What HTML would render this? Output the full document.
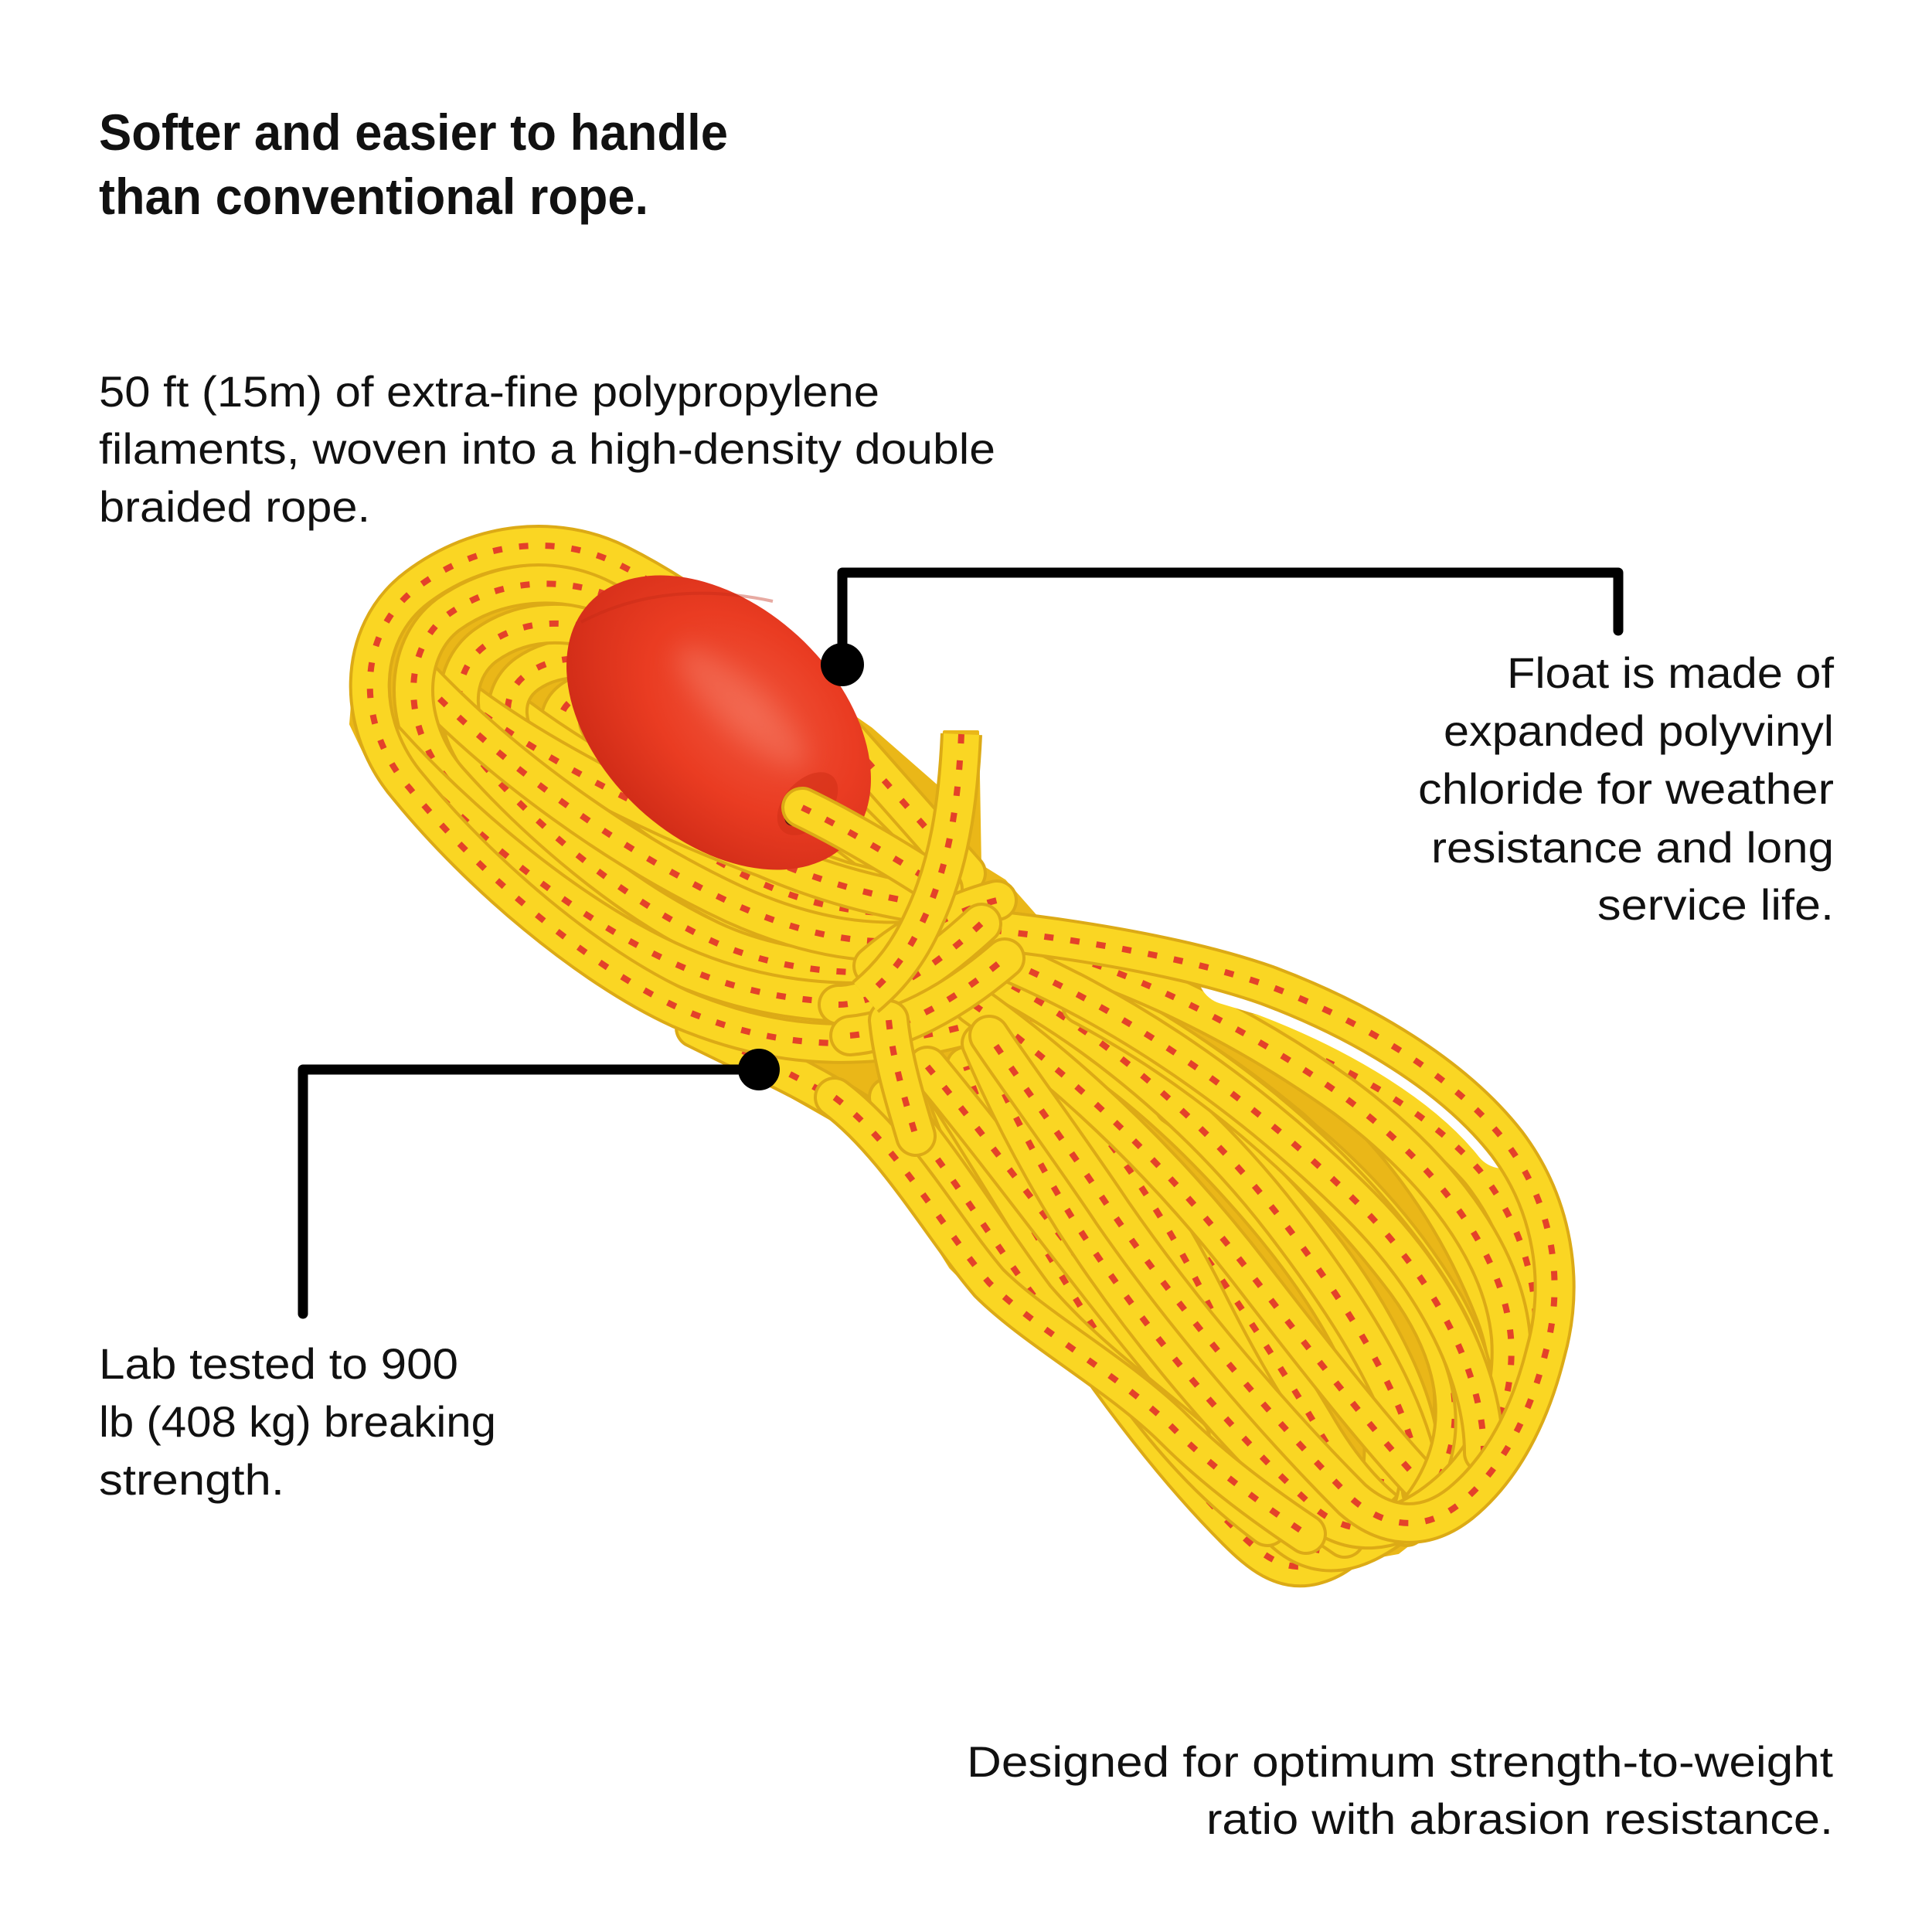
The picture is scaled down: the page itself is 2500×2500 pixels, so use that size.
<!DOCTYPE html>
<html>
<head>
<meta charset="utf-8">
<style>
html,body{margin:0;padding:0;background:#fff;}
svg{display:block;}
.t{font-family:"Liberation Sans",Arial,sans-serif;fill:#111;}
.h{font-weight:700;font-size:66px;}
.b{font-weight:400;font-size:56px;}
.o{fill:none;stroke:#dcaa16;stroke-width:54;stroke-linecap:round;stroke-linejoin:round;}
.f{fill:none;stroke:#fad623;stroke-width:46;stroke-linecap:round;stroke-linejoin:round;}
.d{fill:none;stroke:#e4412a;stroke-width:8;stroke-dasharray:12 22;}
</style>
</head>
<body>
<svg width="2500" height="2500" viewBox="0 0 2500 2500" xmlns="http://www.w3.org/2000/svg">
<defs>
  <radialGradient id="fg" cx="0.55" cy="0.38" r="0.62">
    <stop offset="0" stop-color="#f0553c"/>
    <stop offset="0.55" stop-color="#ea3c22"/>
    <stop offset="1" stop-color="#d22d18"/>
  </radialGradient>
  <filter id="bl" x="-50%" y="-50%" width="200%" height="200%"><feGaussianBlur stdDeviation="16"/></filter>
  <!-- left lobe -->
  <path id="L1" d="M1240,1330 C1100,1365 990,1352 880,1305 C760,1250 620,1130 530,1020 C460,940 460,820 540,760 C620,700 720,690 800,730 C900,780 1000,860 1100,960 L1250,1130"/>
  <path id="L2" d="M1230,1290 C1090,1318 980,1300 900,1262 C780,1205 660,1100 580,1010 C520,940 520,840 580,795 C650,745 740,745 810,780 C900,830 1000,905 1100,990 L1230,1120"/>
  <path id="L3" d="M1230,1250 C1100,1270 995,1252 920,1217 C800,1160 700,1072 632,997 C582,942 582,870 627,836 C687,792 762,802 832,838 C912,882 1010,952 1100,1022 L1220,1115"/>
  <path id="L4" d="M1220,1215 C1110,1228 1015,1207 942,1172 C842,1122 752,1052 692,992 C647,947 647,897 682,872 C732,837 802,852 862,887 C932,927 1022,987 1100,1052 L1200,1130"/>
  <path id="L5" d="M1200,1180 C1110,1188 1032,1167 962,1132 C882,1092 802,1032 752,987 C717,952 717,917 747,902 C792,882 852,907 902,937 C962,972 1040,1032 1100,1082 L1190,1150"/>
  <path id="L6" d="M500,960 C590,1060 740,1190 880,1250 C990,1298 1100,1305 1210,1290"/>
  <path id="L7" d="M545,880 C650,990 800,1100 950,1170 C1050,1215 1130,1225 1210,1215"/>
  <path id="L8" d="M900,1330 C980,1370 1040,1395 1110,1440"/>
  <path id="L9" d="M670,928 C780,1010 940,1090 1090,1140 L1190,1165"/>
  <path id="L10" d="M740,937 C850,985 990,1050 1120,1105"/>
  <path id="L11" d="M598,905 C690,975 840,1055 990,1110 C1060,1140 1130,1160 1200,1170"/>
  <!-- right lobe -->
  <path id="R1" d="M1250,1200 C1400,1215 1540,1240 1640,1275 C1760,1320 1880,1390 1950,1480 C2010,1560 2025,1660 2000,1750 C1980,1830 1945,1900 1890,1945 C1840,1985 1790,1975 1750,1940 C1650,1840 1530,1700 1440,1570 C1380,1480 1320,1400 1280,1340"/>
  <path id="R2" d="M1250,1205 C1420,1230 1600,1320 1740,1420 C1860,1510 1945,1620 1955,1730 C1962,1830 1915,1905 1850,1950 C1790,1990 1740,1985 1700,1950 C1600,1860 1480,1720 1390,1580 C1340,1500 1300,1420 1270,1350"/>
  <path id="R9" d="M1620,1335 C1740,1375 1850,1440 1915,1515 C1975,1590 1995,1680 1985,1760 C1975,1840 1935,1900 1880,1945"/>
  <path id="R3" d="M1250,1240 C1400,1270 1550,1360 1670,1460 C1780,1560 1870,1680 1880,1790 C1890,1880 1840,1960 1770,1995 C1720,2020 1680,2005 1650,1970 C1560,1870 1440,1730 1350,1590 C1300,1510 1270,1440 1250,1380"/>
  <path id="R4" d="M1240,1280 C1380,1320 1500,1420 1600,1530 C1700,1640 1780,1760 1790,1860 C1795,1940 1760,2010 1700,2025 C1660,2035 1630,2010 1600,1980 C1500,1880 1400,1740 1320,1610 C1270,1530 1240,1460 1220,1400"/>
  <path id="R5" d="M1080,1420 C1160,1480 1220,1590 1280,1660 C1340,1720 1450,1780 1520,1850 C1570,1900 1630,1945 1690,1985"/>
  <path id="R6" d="M1260,1300 C1400,1400 1520,1520 1620,1650 C1720,1780 1800,1880 1860,1940"/>
  <path id="R7" d="M1270,1230 C1450,1300 1620,1420 1760,1560 C1860,1660 1920,1780 1920,1880"/>
  <path id="R8" d="M1200,1380 C1300,1500 1400,1640 1500,1760 C1580,1860 1650,1930 1740,1990"/>
  <path id="R10" d="M1280,1260 C1420,1330 1560,1450 1660,1580 C1760,1710 1830,1830 1840,1930"/>
  <path id="R11" d="M1300,1330 C1420,1440 1500,1560 1560,1680 C1620,1800 1680,1900 1760,1970"/>
  <path id="R12" d="M1330,1250 C1500,1320 1680,1450 1800,1600 C1880,1700 1930,1800 1900,1900"/>
  <path id="R13" d="M1230,1420 C1320,1560 1400,1700 1470,1800 C1530,1880 1580,1930 1640,1975"/>
  <path id="R14" d="M1400,1300 C1550,1380 1700,1500 1820,1660 C1900,1770 1900,1870 1840,1950"/>
  <path id="R15" d="M1150,1420 C1220,1500 1280,1600 1340,1680 C1400,1750 1470,1800 1540,1860"/>
  <path id="R16" d="M1480,1520 C1560,1620 1640,1740 1700,1840 C1740,1910 1780,1950 1820,1975"/>
  <path id="R17" d="M1560,1390 C1690,1460 1800,1570 1870,1690 C1920,1780 1925,1860 1880,1930"/>
  <path id="R18" d="M1690,1372 C1800,1450 1885,1570 1935,1700 C1965,1780 1955,1860 1910,1920"/>
  <path id="R19" d="M1520,1430 C1620,1500 1720,1610 1780,1720 C1830,1810 1850,1880 1830,1950"/>
  <!-- knot & ends -->
  <path id="EX" d="M1038,1045 C1090,1070 1150,1105 1220,1150"/>
  <path id="K1" d="M1085,1300 C1130,1300 1200,1260 1270,1195"/>
  <path id="K2" d="M1100,1340 C1160,1335 1230,1300 1300,1240"/>
  <path id="K3" d="M1130,1250 C1170,1215 1230,1180 1290,1165"/>
  <path id="K4" d="M1150,1320 C1155,1370 1170,1420 1185,1470"/>
  <path id="LE" d="M1244,950 C1240,1040 1228,1120 1195,1190 C1175,1235 1150,1265 1120,1290"/>
</defs>

<rect width="2500" height="2500" fill="#fff"/>

<!-- Title -->
<text class="t h" x="128" y="194" textLength="814" lengthAdjust="spacingAndGlyphs">Softer and easier to handle</text>
<text class="t h" x="128" y="277" textLength="711" lengthAdjust="spacingAndGlyphs">than conventional rope.</text>

<!-- Paragraph 1 -->
<text class="t b" x="128" y="526" textLength="1010" lengthAdjust="spacingAndGlyphs">50 ft (15m) of extra-fine polypropylene</text>
<text class="t b" x="128" y="600" textLength="1160" lengthAdjust="spacingAndGlyphs">filaments, woven into a high-density double</text>
<text class="t b" x="128" y="675" textLength="351" lengthAdjust="spacingAndGlyphs">braided rope.</text>

<!-- Float text -->
<text class="t b" x="1950" y="890" textLength="423" lengthAdjust="spacingAndGlyphs">Float is made of</text>
<text class="t b" x="1868" y="965" textLength="505" lengthAdjust="spacingAndGlyphs">expanded polyvinyl</text>
<text class="t b" x="1835" y="1040" textLength="538" lengthAdjust="spacingAndGlyphs">chloride for weather</text>
<text class="t b" x="1852" y="1116" textLength="521" lengthAdjust="spacingAndGlyphs">resistance and long</text>
<text class="t b" x="2067" y="1190" textLength="306" lengthAdjust="spacingAndGlyphs">service life.</text>

<!-- Lab text -->
<text class="t b" x="128" y="1784" textLength="465" lengthAdjust="spacingAndGlyphs">Lab tested to 900</text>
<text class="t b" x="128" y="1859" textLength="514" lengthAdjust="spacingAndGlyphs">lb (408 kg) breaking</text>
<text class="t b" x="128" y="1934" textLength="240" lengthAdjust="spacingAndGlyphs">strength.</text>

<!-- Bottom text -->
<text class="t b" x="1251" y="2299" textLength="1121" lengthAdjust="spacingAndGlyphs">Designed for optimum strength-to-weight</text>
<text class="t b" x="1561" y="2373" textLength="811" lengthAdjust="spacingAndGlyphs">ratio with abrasion resistance.</text>

<!-- Rope silhouette -->
<path d="M454,937 L460,863 L487,798 L541,742 L617,705 L693,685 L758,692 L807,719 L850,750 L1127,943 L1215,1020 L1222,947 L1265,947 L1268,1120 L1300,1140 L1351,1198 L1491,1223 L1632,1250 L1772,1308 L1877,1374 L1955,1460 L2010,1574 L2030,1660 L1995,1756 L1960,1817 L1925,1905 L1877,1956 L1809,2009 L1755,2019 L1710,2028 L1680,2015 L1632,1958 L1560,1905 L1490,1820 L1340,1735 L1280,1690 L1230,1640 L1180,1560 L1105,1465 L1000,1405 L960,1365 L910,1334 L855,1316 L834,1295 L758,1242 L671,1168 L595,1094 L530,1038 L476,983 Z" fill="#eab718" stroke="#eab718" stroke-width="4" stroke-linejoin="round"/>

<!-- Left lobe strands -->
<g>
<use href="#L10" class="o"/><use href="#L10" class="f"/><use href="#L10" class="d"/>
<use href="#L5" class="o"/><use href="#L5" class="f"/><use href="#L5" class="d"/>
<use href="#L9" class="o"/><use href="#L9" class="f"/><use href="#L9" class="d"/>
<use href="#L4" class="o"/><use href="#L4" class="f"/><use href="#L4" class="d"/>
<use href="#L11" class="o"/><use href="#L11" class="f"/><use href="#L11" class="d"/>
<use href="#L3" class="o"/><use href="#L3" class="f"/><use href="#L3" class="d"/>
<use href="#L7" class="o"/><use href="#L7" class="f"/><use href="#L7" class="d"/>
<use href="#L2" class="o"/><use href="#L2" class="f"/><use href="#L2" class="d"/>
<use href="#L6" class="o"/><use href="#L6" class="f"/><use href="#L6" class="d"/>
<use href="#L8" class="o"/><use href="#L8" class="f"/><use href="#L8" class="d"/>
<use href="#L1" class="o"/><use href="#L1" class="f"/><use href="#L1" class="d"/>
</g>

<!-- Right lobe strands -->
<g>
<use href="#R4" class="o"/><use href="#R4" class="f"/><use href="#R4" class="d"/>
<use href="#R16" class="o"/><use href="#R16" class="f"/><use href="#R16" class="d"/>
<use href="#R3" class="o"/><use href="#R3" class="f"/><use href="#R3" class="d"/>
<use href="#R13" class="o"/><use href="#R13" class="f"/><use href="#R13" class="d"/>
<use href="#R11" class="o"/><use href="#R11" class="f"/><use href="#R11" class="d"/>
<use href="#R8" class="o"/><use href="#R8" class="f"/><use href="#R8" class="d"/>
<use href="#R19" class="o"/><use href="#R19" class="f"/><use href="#R19" class="d"/>
<use href="#R10" class="o"/><use href="#R10" class="f"/><use href="#R10" class="d"/>
<use href="#R18" class="o"/><use href="#R18" class="f"/><use href="#R18" class="d"/>
<use href="#R6" class="o"/><use href="#R6" class="f"/><use href="#R6" class="d"/>
<use href="#R17" class="o"/><use href="#R17" class="f"/><use href="#R17" class="d"/>
<use href="#R14" class="o"/><use href="#R14" class="f"/><use href="#R14" class="d"/>
<use href="#R9" class="o"/><use href="#R9" class="f"/><use href="#R9" class="d"/>
<use href="#R12" class="o"/><use href="#R12" class="f"/><use href="#R12" class="d"/>
<use href="#R2" class="o"/><use href="#R2" class="f"/><use href="#R2" class="d"/>
<use href="#R7" class="o"/><use href="#R7" class="f"/><use href="#R7" class="d"/>
<use href="#R15" class="o"/><use href="#R15" class="f"/><use href="#R15" class="d"/>
<use href="#R5" class="o"/><use href="#R5" class="f"/><use href="#R5" class="d"/>
<!-- white gap under outer strand -->
<path d="M1590,1260 L1640,1275 C1760,1320 1880,1390 1945,1472" fill="none" stroke="#fff" stroke-width="80" stroke-linecap="round"/>
<use href="#R1" class="o"/><use href="#R1" class="f"/><use href="#R1" class="d"/>
</g>

<!-- Float -->
<g>
  <ellipse cx="930" cy="935" rx="228" ry="152" transform="rotate(42.5 930 935)" fill="url(#fg)"/>
  <ellipse cx="960" cy="915" rx="110" ry="30" transform="rotate(42.5 960 915)" fill="#f5806b" opacity="0.45" filter="url(#bl)"/>
  <path d="M752,805 Q860,748 1000,778" fill="none" stroke="#c22a16" stroke-width="4" opacity="0.4"/>
  <ellipse cx="1045" cy="1040" rx="48" ry="30" transform="rotate(-47.5 1045 1040)" fill="#d23018" opacity="0.6"/>
  <ellipse cx="1036" cy="1047" rx="26" ry="15" transform="rotate(-47.5 1036 1047)" fill="#5e1a10"/>
</g>

<!-- exit strand, knot, loose end -->
<g>
<use href="#EX" class="o"/><use href="#EX" class="f"/><use href="#EX" class="d"/>
<use href="#K3" class="o"/><use href="#K3" class="f"/><use href="#K3" class="d"/>
<use href="#K1" class="o"/><use href="#K1" class="f"/><use href="#K1" class="d"/>
<use href="#K2" class="o"/><use href="#K2" class="f"/><use href="#K2" class="d"/>
<use href="#K4" class="o"/><use href="#K4" class="f"/><use href="#K4" class="d"/>
<use href="#LE" class="o" style="stroke-linecap:butt"/><use href="#LE" class="f" style="stroke-linecap:butt"/><use href="#LE" class="d"/>
</g>

<!-- Connectors -->
<path d="M1090,860 L1090,741 L2094,741 L2094,816" fill="none" stroke="#000" stroke-width="13" stroke-linecap="round" stroke-linejoin="round"/>
<circle cx="1090" cy="860" r="28" fill="#000"/>
<path d="M982,1384 L392,1384 L392,1700" fill="none" stroke="#000" stroke-width="13" stroke-linecap="round" stroke-linejoin="round"/>
<circle cx="982" cy="1384" r="27" fill="#000"/>
</svg>
</body>
</html>
